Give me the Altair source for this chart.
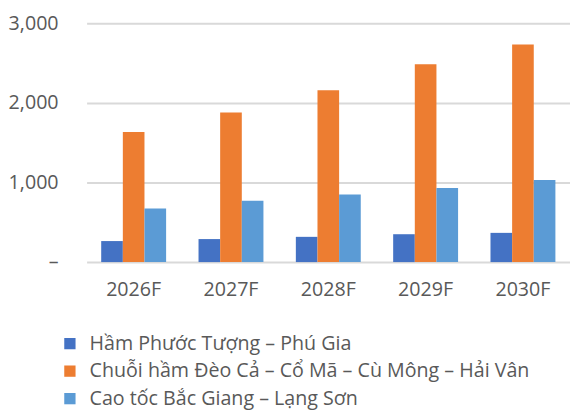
import altair as alt
import pandas as pd

years = ["2026F", "2027F", "2028F", "2029F", "2030F"]
series = [
    "Hầm Phước Tượng – Phú Gia",
    "Chuỗi hầm Đèo Cả – Cổ Mã – Cù Mông – Hải Vân",
    "Cao tốc Bắc Giang – Lạng Sơn",
]
phuoc_tuong = [264, 289, 317, 350, 367]
deo_ca = [1635, 1881, 2160, 2486, 2733]
bac_giang = [672, 770, 848, 931, 1030]
colors = ["#4472C4", "#ED7D31", "#5B9BD5"]
y_ticks = [0, 1000, 2000, 3000]

rows = []
for i, y in enumerate(years):
    for s, vals in zip(series, [phuoc_tuong, deo_ca, bac_giang]):
        rows.append({"year": y, "series": s, "value": vals[i]})
df = pd.DataFrame(rows)

FONT = "Open Sans"
TXT = "#595959"
FS = 20

chart = (
    alt.Chart(df)
    .mark_bar()
    .encode(
        x=alt.X(
            "year:N",
            sort=years,
            title=None,
            scale=alt.Scale(paddingInner=0.333, paddingOuter=0.15),
            axis=alt.Axis(
                labelAngle=0,
                ticks=False,
                tickSize=0,
                domain=False,
                labelPadding=18,
                labelFontSize=FS,
                labelColor=TXT,
                labelFont=FONT,
                grid=False,
            ),
        ),
        xOffset=alt.XOffset("series:N", sort=series, scale=alt.Scale(paddingInner=0, paddingOuter=0)),
        y=alt.Y(
            "value:Q",
            title=None,
            scale=alt.Scale(domain=[0, 3000], nice=False),
            axis=alt.Axis(
                values=y_ticks,
                labelExpr="datum.value == 0 ? '–' : format(datum.value, ',')",
                ticks=False,
                tickSize=0,
                domain=False,
                grid=True,
                gridColor="#D9D9D9",
                gridWidth=2,
                labelPadding=29,
                labelFontSize=FS,
                labelColor=TXT,
                labelFont=FONT,
            ),
        ),
        color=alt.Color(
            "series:N",
            sort=series,
            scale=alt.Scale(domain=series, range=colors),
            legend=alt.Legend(
                title=None,
                orient="none",
                legendX=-27,
                legendY=316,
                direction="vertical",
                symbolType="square",
                symbolSize=132,
                symbolStrokeWidth=0,
                labelFontSize=FS,
                labelFont=FONT,
                labelColor=TXT,
                labelOffset=10,
                rowPadding=8,
                padding=0,
                labelLimit=1000,
            ),
        ),
    )
    .properties(width=492, height=243, padding={"left": 0, "top": 2, "right": 0, "bottom": 0})
    .configure_view(stroke=None)
)

chart.save("out.html", embed_options={"renderer": "svg", "actions": False})
